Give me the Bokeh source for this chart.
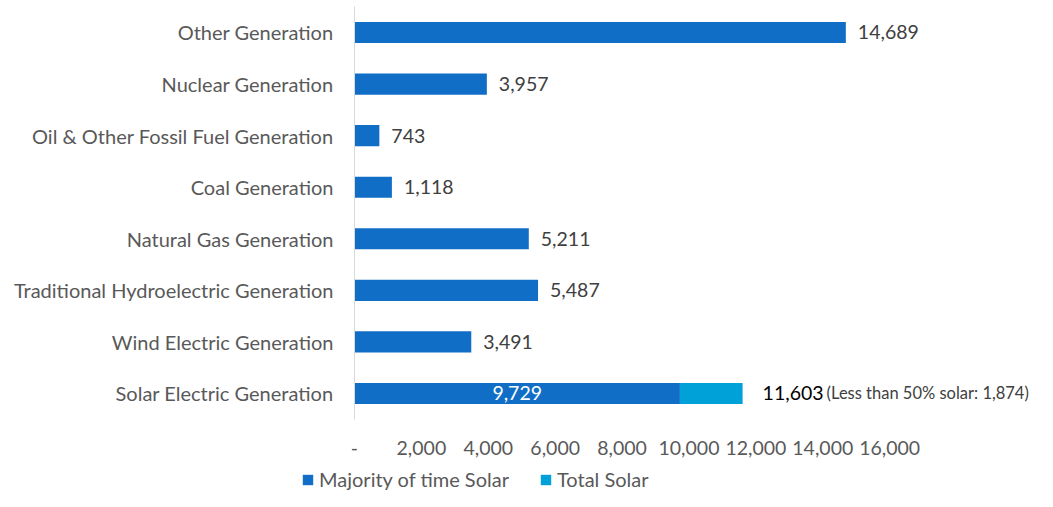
from bokeh.plotting import figure
from bokeh.models import (ColumnDataSource, FixedTicker, Legend, LegendItem, Range1d,
                          LinearAxis)
from bokeh.core.properties import value
from bokeh.embed import file_html
from bokeh.resources import INLINE

categories = ["Solar Electric Generation", "Wind Electric Generation",
              "Traditional Hydroelectric Generation", "Natural Gas Generation",
              "Coal Generation", "Oil & Other Fossil Fuel Generation",
              "Nuclear Generation", "Other Generation"]
majority = [9729, 3491, 5487, 5211, 1118, 743, 3957, 14689]
extra_solar = [1874, 0, 0, 0, 0, 0, 0, 0]
x_ticks = [0, 2000, 4000, 6000, 8000, 10000, 12000, 14000, 16000]
series_names = ["Majority of time Solar", "Total Solar"]

FONT = "Lato"
DARK = "#106EC6"
LIGHT = "#00A0D8"

totals = [m + e for m, e in zip(majority, extra_solar)]
ypos = list(range(len(categories)))

p = figure(width=1037, height=491, output_backend="svg", toolbar_location=None,
           x_axis_type=None, y_axis_type=None,
           x_range=Range1d(-10583, 20419), y_range=Range1d(-1.9003, 7.6205),
           min_border_left=0, min_border_right=0, min_border_top=0,
           min_border_bottom=0, outline_line_color=None)
p.xgrid.visible = False
p.ygrid.visible = False

src = ColumnDataSource(dict(y=ypos, maj=majority, tot=totals,
                            zero=[0] * len(categories)))
r1 = p.hbar(y="y", left="zero", right="maj", height=0.41, fill_color=DARK,
            line_color=None, source=src)
r2 = p.hbar(y="y", left="maj", right="tot", height=0.41, fill_color=LIGHT,
            line_color=None, source=src)

# value labels for non-solar bars
others = [i for i, e in enumerate(extra_solar) if e == 0]
lab = ColumnDataSource(dict(y=[ypos[i] for i in others],
                            x=[totals[i] for i in others],
                            t=[f"{totals[i]:,}" for i in others]))
p.text(x="x", y="y", text="t", source=lab, x_offset=12, text_align="left",
       text_baseline="middle", text_font=value(FONT), text_font_size="19.5px",
       text_color="#404040")

# solar labels
sol = [i for i, e in enumerate(extra_solar) if e > 0]
sl = ColumnDataSource(dict(y=[ypos[i] for i in sol],
                           xm=[majority[i] / 2 for i in sol],
                           tm=[f"{majority[i]:,}" for i in sol],
                           x=[totals[i] for i in sol],
                           t=[f"{totals[i]:,}" for i in sol],
                           t2=[f"(Less than 50% solar: {extra_solar[i]:,})" for i in sol]))
p.text(x="xm", y="y", text="tm", source=sl, text_align="center",
       text_baseline="middle", text_font=value(FONT), text_font_size="19.5px",
       text_color="white")
p.text(x="x", y="y", text="t", source=sl, x_offset=20, text_align="left",
       text_baseline="middle", text_font=value(FONT), text_font_size="19.5px",
       text_color="#000000")
p.text(x="x", y="y", text="t2", source=sl, x_offset=84, text_align="left",
       text_baseline="middle", text_font=value(FONT), text_font_size="16.5px",
       text_color="#404040")

# axes placed inside the frame
xa = LinearAxis(ticker=FixedTicker(ticks=x_ticks), fixed_location=-0.5)
xa.major_label_overrides = {t: ("-" if t == 0 else f"{t:,}") for t in x_ticks}
xa.axis_line_color = None
xa.major_tick_line_color = None
xa.minor_tick_line_color = None
xa.major_label_standoff = 16
xa.major_label_text_font = FONT
xa.major_label_text_font_size = "19.5px"
xa.major_label_text_color = "#595959"
p.add_layout(xa, "below")

ya = LinearAxis(ticker=FixedTicker(ticks=ypos), fixed_location=0, bounds=(-0.5, 7.5))
ya.major_label_overrides = {i: c for i, c in zip(ypos, categories)}
ya.axis_line_color = "#d9d9d9"
ya.axis_line_width = 1
ya.major_tick_line_color = None
ya.minor_tick_line_color = None
ya.major_label_standoff = 15
ya.major_label_text_font = FONT
ya.major_label_text_font_size = "20px"
ya.major_label_text_color = "#595959"
p.add_layout(ya, "left")

legend = Legend(items=[LegendItem(label=series_names[0], renderers=[r1]),
                       LegendItem(label=series_names[1], renderers=[r2])],
                orientation="horizontal", location=(301, 0),
                padding=0, margin=0, spacing=30, glyph_width=13, glyph_height=13,
                label_height=18, label_standoff=5, border_line_color=None,
                background_fill_alpha=0,
                label_text_font=FONT, label_text_font_size="20px",
                label_text_color="#595959")
p.add_layout(legend, "center")

open("out.html", "w").write(file_html(p, INLINE))
